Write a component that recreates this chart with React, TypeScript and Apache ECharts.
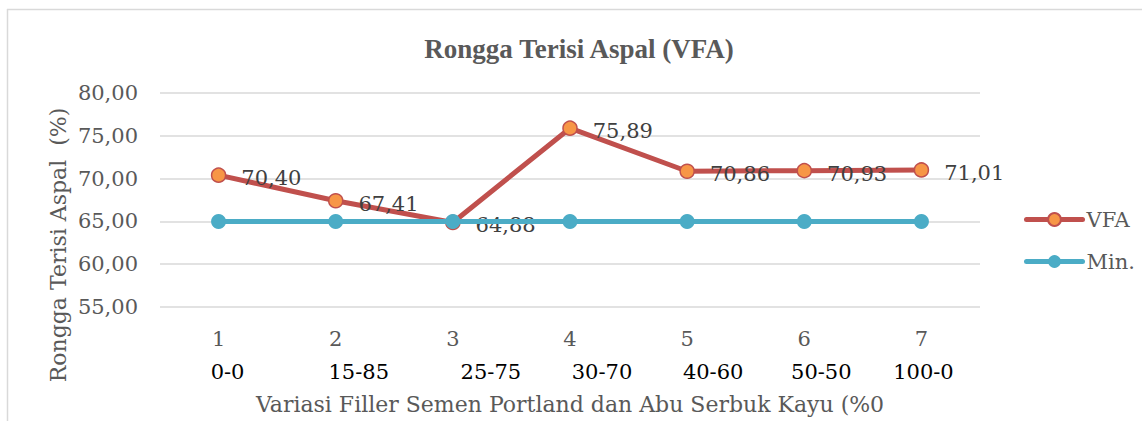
import React, { useEffect, useRef } from "react";
import * as echarts from "echarts";

const categories = ["1", "2", "3", "4", "5", "6", "7"];
const ratioLabels = ["0-0", "15-85", "25-75", "30-70", "40-60", "50-50", "100-0"];
const vfaValues = [70.4, 67.41, 64.88, 75.89, 70.86, 70.93, 71.01];
const minValues = [65, 65, 65, 65, 65, 65, 65];
const yTicks = { min: 55, max: 80, interval: 5 };
// horizontal offset (px) of each ratio label from its category centre
const ratioOffsets = [9, 23, 38, 32, 26, 17, 2];

const FONT = "DejaVu Serif";
const fmt = (v: number) => v.toFixed(2).replace(".", ",");

export default function App() {
  const ref = useRef<HTMLDivElement>(null);
  useEffect(() => {
    document.body.style.margin = "0";
    const chart = echarts.init(ref.current!, undefined, { renderer: "svg" });
    const option: any = {
      animation: false,
      backgroundColor: "#ffffff",
      title: {
        text: "Rongga Terisi Aspal (VFA)",
        left: 574,
        top: 30,
        textAlign: "center",
        textStyle: {
          fontFamily: "Liberation Serif",
          fontWeight: "bold",
          fontSize: 27,
          color: "#595959",
        },
      },
      grid: {
        left: 160,
        right: 162,
        top: 93,
        bottom: 114,
        containLabel: false,
        outerBoundsMode: "none",
      },
      legend: {
        orient: "vertical",
        left: 1019,
        top: 204,
        itemWidth: 56,
        itemHeight: 16,
        itemGap: 21,
        data: ["VFA", "Min."],
        lineStyle: { width: 5, cap: "round" },
        textStyle: { fontFamily: FONT, fontSize: 21, color: "#595959", padding: [0, 0, 0, -1] },
      },
      xAxis: {
        type: "category",
        data: categories,
        boundaryGap: true,
        axisLine: { show: false },
        axisTick: { show: false },
        axisLabel: {
          margin: 21,
          fontFamily: FONT,
          fontSize: 21,
          color: "#595959",
        },
        name: "Variasi Filler Semen Portland dan Abu Serbuk Kayu (%0",
        nameLocation: "middle",
        nameGap: 86,
        nameTextStyle: { fontFamily: FONT, fontSize: 22, color: "#595959" },
      },
      yAxis: {
        type: "value",
        min: yTicks.min,
        max: yTicks.max,
        interval: yTicks.interval,
        axisLine: { show: false },
        axisTick: { show: false },
        splitLine: { lineStyle: { color: "#D9D9D9", width: 1.5 } },
        axisLabel: {
          margin: 22,
          fontFamily: FONT,
          fontSize: 21,
          color: "#595959",
          formatter: (v: number) => fmt(v),
        },
      },
      series: [
        {
          name: "VFA",
          type: "line",
          data: vfaValues,
          symbol: "circle",
          symbolSize: 14,
          lineStyle: { color: "#C0504D", width: 5 },
          itemStyle: { color: "#F79646", borderColor: "#C0504D", borderWidth: 1.5 },
          label: {
            show: true,
            position: "right",
            distance: 15,
            offset: [0, 3],
            fontFamily: FONT,
            fontSize: 21,
            color: "#404040",
            formatter: (p: any) => fmt(p.value),
          },
          z: 2,
        },
        {
          name: "Min.",
          type: "line",
          data: minValues,
          symbol: "circle",
          symbolSize: 15,
          lineStyle: { color: "#4BACC6", width: 5 },
          itemStyle: { color: "#4BACC6" },
          z: 3,
        },
      ],
    };
    chart.setOption(option);

    const ratioTexts = ratioLabels.map((t, i) => {
      const px = chart.convertToPixel({ xAxisIndex: 0 }, categories[i]) as number;
      return {
        type: "text",
        x: px + ratioOffsets[i],
        y: 372,
        style: {
          text: t,
          fontFamily: FONT,
          fontSize: 21,
          fill: "#000000",
          align: "center",
          verticalAlign: "middle",
        },
      };
    });
    chart.setOption({
      graphic: [
        {
          type: "line",
          shape: { x1: 7, y1: 9.5, x2: 1142, y2: 9.5 },
          style: { stroke: "#D9D9D9", lineWidth: 1.5 },
        },
        {
          type: "line",
          shape: { x1: 7.5, y1: 9, x2: 7.5, y2: 421 },
          style: { stroke: "#D9D9D9", lineWidth: 1.5 },
        },
        {
          type: "text",
          x: 58,
          y: 245,
          rotation: Math.PI / 2,
          style: {
            text: "Rongga Terisi Aspal  (%)",
            fontFamily: FONT,
            fontSize: 22,
            fill: "#595959",
            align: "center",
            verticalAlign: "middle",
          },
        },
        ...ratioTexts,
      ],
    });
    return () => chart.dispose();
  }, []);
  return <div ref={ref} style={{ width: 1142, height: 421 }} />;
}
